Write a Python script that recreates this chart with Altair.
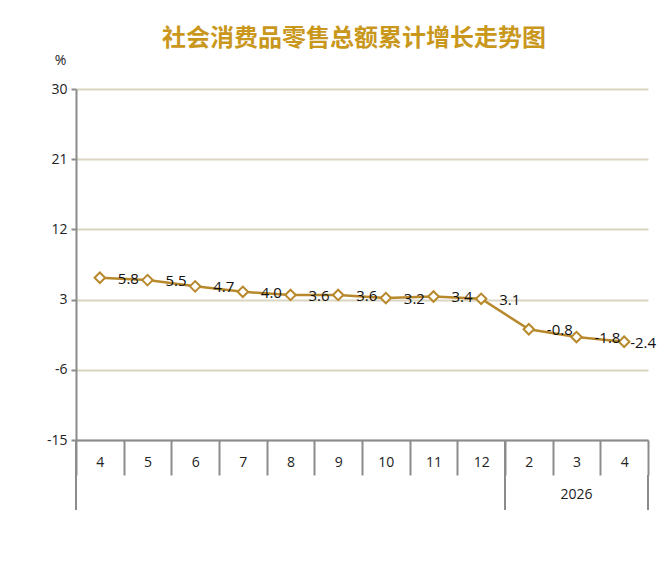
import pandas as pd
import altair as alt

# Cumulative growth of total retail sales of consumer goods (%)
years = ["2025"] * 9 + ["2026"] * 3
months = ["4", "5", "6", "7", "8", "9", "10", "11", "12", "2", "3", "4"]
growth = [5.8, 5.5, 4.7, 4.0, 3.6, 3.6, 3.2, 3.4, 3.1, -0.8, -1.8, -2.4]

y_ticks = [-15, -6, 3, 12, 21, 30]

GOLD = "#B8892C"
TITLE_GOLD = "#C9971C"
AXIS_GREY = "#8C8C8C"
GRID = "#DAD6C2"
FONT = "Open Sans"

W, H = 572, 351

df = pd.DataFrame({
    "key": [f"{y}-{m}" for y, m in zip(years, months)],
    "year": years,
    "month": months,
    "value": growth,
})
df["label"] = df["value"].map(lambda v: f"{v:.1f}")
order = df["key"].tolist()

x_enc = alt.X(
    "key:O", sort=order, title=None,
    scale=alt.Scale(paddingInner=0, paddingOuter=0),
    axis=alt.Axis(
        labelExpr="split(datum.value, '-')[1]", labelAngle=0,
        tickBand="extent", tickSize=35, tickWidth=2, tickColor=AXIS_GREY,
        domainColor=AXIS_GREY, domainWidth=2, labelPadding=-20,
        labelFont=FONT, labelFontSize=14, labelColor="#222222",
    ),
)
y_enc = alt.Y(
    "value:Q", title="%",
    scale=alt.Scale(domain=[-15, 30], nice=False),
    axis=alt.Axis(
        values=y_ticks, grid=True, gridColor=GRID, gridWidth=2,
        labelExpr="datum.value + ''",
        domainColor=AXIS_GREY, domainWidth=2, tickColor=AXIS_GREY,
        tickWidth=2, tickSize=5, labelFont=FONT, labelFontSize=14,
        labelColor="#222222", labelPadding=4,
        titleAngle=0, titleX=-16, titleY=-22, titleAlign="center",
        titleFont=FONT, titleFontSize=14, titleFontWeight="normal",
        titleColor="#222222",
    ),
)
x_plain = alt.X("key:O", sort=order)

base = alt.Chart(df)

line = base.mark_line(color=GOLD, strokeWidth=2.5).encode(x=x_enc, y=y_enc)

points = base.mark_point(
    shape="diamond", size=110, filled=True, fill="white",
    stroke=GOLD, strokeWidth=2, opacity=1,
).encode(x=x_plain, y="value:Q")

labels = base.transform_filter(
    alt.datum.key != order[-1]
).mark_text(
    align="left", baseline="middle", dx=18, dy=1,
    font=FONT, fontSize=15, color="#111111",
).encode(x=x_plain, y="value:Q", text="label:N")

last_label = base.transform_filter(
    alt.datum.key == order[-1]
).mark_text(
    align="left", baseline="middle", dx=6, dy=1,
    font=FONT, fontSize=15, color="#111111",
).encode(x=x_plain, y="value:Q", text="label:N")

# year grouping row under the month axis
group_starts = df.drop_duplicates("year")
group_start_rules = alt.Chart(group_starts).mark_rule(
    color=AXIS_GREY, strokeWidth=2
).encode(
    x=alt.X("key:O", sort=order, bandPosition=0),
    y=alt.value(H), y2=alt.value(H + 70),
)
group_end_rule = alt.Chart(df.tail(1)).mark_rule(
    color=AXIS_GREY, strokeWidth=2
).encode(
    x=alt.X("key:O", sort=order, bandPosition=1),
    y=alt.value(H + 35), y2=alt.value(H + 70),
)

year_mid = df[df["year"] == "2026"].iloc[[1]]
year_text = alt.Chart(year_mid).mark_text(
    baseline="middle", font=FONT, fontSize=14, color="#222222",
).encode(
    x=x_plain, y=alt.value(H + 55), text="year:N",
)

chart = (
    alt.layer(line, points, labels, last_label,
              group_start_rules, group_end_rule, year_text)
    .properties(
        width=W, height=H,
        autosize=alt.AutoSizeParams(type="none"),
        padding={"left": 68, "top": 81, "right": 11, "bottom": 118},
        title=alt.TitleParams(
            "社会消费品零售总额累计增长走势图",
            font="Noto Sans CJK SC", fontSize=24, fontWeight="bold",
            color=TITLE_GOLD, anchor="middle", offset=2, dx=-8,
        ),
    )
    .configure_view(stroke=None)
)

chart.save("out.html", embed_options={"renderer": "svg", "actions": False})
